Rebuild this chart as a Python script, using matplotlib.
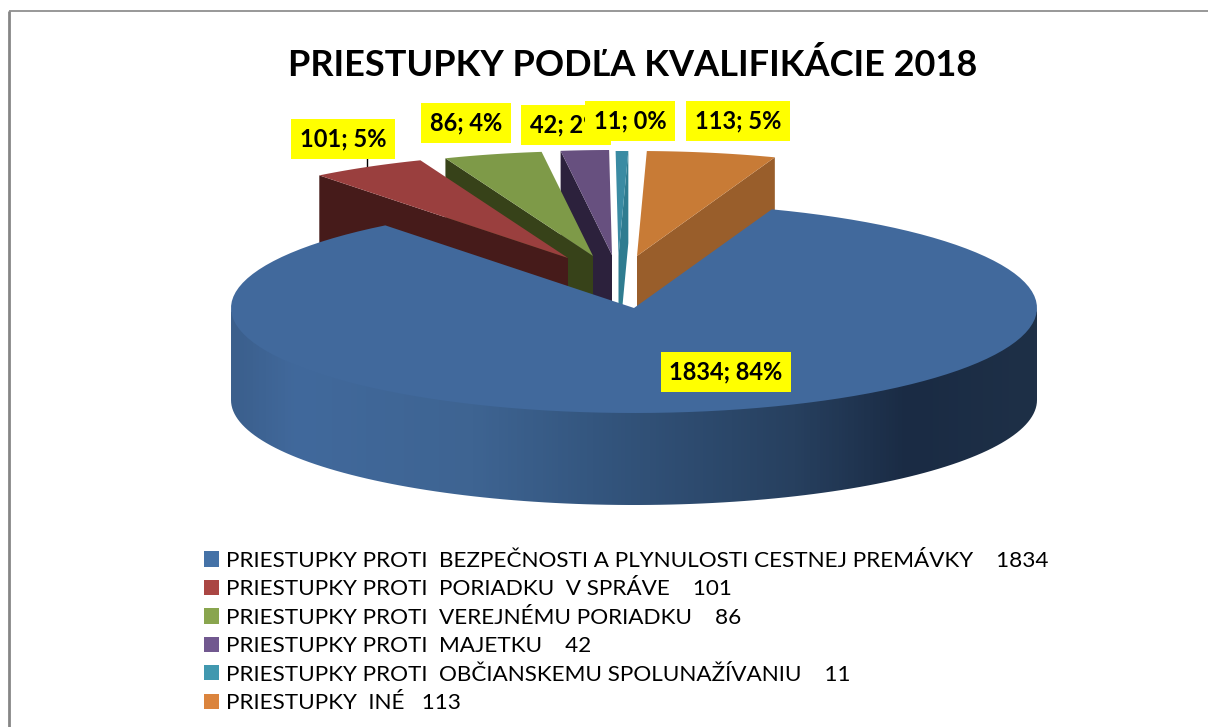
import numpy as np
import matplotlib
matplotlib.use("Agg")
import matplotlib.pyplot as plt
from matplotlib.colors import LinearSegmentedColormap
from matplotlib.patches import Patch, Polygon

# Valeurs
categories = [
    "PRIESTUPKY PROTI  BEZPEČNOSTI A PLYNULOSTI CESTNEJ PREMÁVKY",
    "PRIESTUPKY PROTI  PORIADKU  V SPRÁVE",
    "PRIESTUPKY PROTI  VEREJNÉMU PORIADKU",
    "PRIESTUPKY PROTI  MAJETKU",
    "PRIESTUPKY PROTI  OBČIANSKEMU SPOLUNAŽÍVANIU",
    "PRIESTUPKY  INÉ",
]
values = [1834, 101, 86, 42, 11, 113]
percents = [84, 5, 4, 2, 0, 5]
title = "PRIESTUPKY PODĽA KVALIFIKÁCIE 2018"

# Couleurs
legend_colors = ["#4572A7", "#AA4643", "#89A54E", "#71588F", "#4198AF", "#DB843D"]
top_colors = ["#41699C", "#9A3F3E", "#7E9A48", "#67507F", "#3A8BA3", "#C87B36"]
wall_colors = ["#41699C", "#461B1A", "#374219", "#2C213C", "#2F7C90", "#995E2B"]

# Géométrie de la projection (pixels de l'image)
cx, cy = 634, 308
rx, ry = 403, 105
depth = 92
start_angle = 70  # début de la première tranche, sens horaire
apexes = [(634, 308), (568, 258), (593, 256), (612, 255), (618.5, 256), (637, 256)]
draw_order = [4, 3, 2, 1, 5, 0]
label_centers = [(726, 372), (343, 139), (466, 123), (566, 125), (630, 121), (738, 121)]
label_order = [0, 1, 2, 3, 5, 4]

fig = plt.figure(figsize=(12.08, 7.27), dpi=100)
ax = fig.add_axes([0, 0, 1, 1])
ax.set_xlim(0, 1208)
ax.set_ylim(727, 0)
ax.axis("off")

# Cadre
ax.plot([9, 9], [727, 10.5], color="#868686", lw=2.0, solid_capstyle="butt")
ax.plot([9, 1208], [10.5, 10.5], color="#868686", lw=1.2, solid_capstyle="butt")


def ring(x0, y0, t1, t2, n=120):
    t = np.radians(np.linspace(t1, t2, n))
    return np.column_stack([x0 + rx * np.cos(t), y0 - ry * np.sin(t)])


# Angles des tranches à partir des valeurs
total = sum(values)
spans = [v / total * 360 for v in values]
angles = []
end = start_angle
for s in spans:
    angles.append((end - s, end))
    end = end - s

for i in draw_order:
    t_lo, t_hi = angles[i]
    x0, y0 = apexes[i]
    edge = ring(x0, y0, t_lo, t_hi)

    if i == 0:
        # Paroi extérieure de la grande tranche, en dégradé
        front = ring(cx, cy, 180, 360)
        wall = np.vstack([front + [0, -3], front[::-1] + [0, depth]])
        wall_patch = Polygon(wall, closed=True, fc="none", ec="none")
        ax.add_patch(wall_patch)
        stops = [
            (0.0, "#3B5F8C"),
            (0.08, "#41699C"),
            (0.3, "#3E6492"),
            (0.45, "#34567F"),
            (0.7, "#27405F"),
            (0.84, "#1A2B44"),
            (1.0, "#1E3047"),
        ]
        cmap = LinearSegmentedColormap.from_list("wall", stops)
        img = ax.imshow(
            np.linspace(0, 1, 256).reshape(1, -1),
            cmap=cmap,
            extent=(cx - rx, cx + rx, cy + ry + depth, cy - 3),
            aspect="auto",
            zorder=2,
        )
        img.set_clip_path(wall_patch)
        ax.set_xlim(0, 1208)
        ax.set_ylim(727, 0)
    else:
        # Paroi de coupe visible : côté gauche ou droit selon la position
        mid = np.radians((t_lo + t_hi) / 2)
        side = edge[-1] if np.cos(mid) < 0 else edge[0]
        corners = np.array([[x0, y0], side, side + [0, depth], [x0, y0 + depth]])
        ax.add_patch(Polygon(corners, closed=True, fc=wall_colors[i], ec="none", zorder=3))

    face = np.vstack([[x0, y0], edge])
    ax.add_patch(Polygon(face, closed=True, fc=top_colors[i], ec="none", zorder=3))

# Petit trait de rappel de l'étiquette rouge
ax.plot([367, 367], [158, 170], color="black", lw=1.0, zorder=2.5)

# Étiquettes
for i in label_order:
    x, y = label_centers[i]
    ax.text(
        x,
        y,
        f"{values[i]}; {percents[i]}%",
        family="Lato",
        fontweight="bold",
        fontsize=17,
        ha="center",
        va="center",
        zorder=5,
        bbox=dict(boxstyle="square,pad=0.37", fc="#FFFF00", ec="none"),
    )

# Titre
ax.text(633, 65, title, family="Lato", fontweight="bold", fontsize=26, ha="center", va="center")

# Légende
handles = [Patch(fc=c, ec="none") for c in legend_colors]
labels = [
    f"{c}    {v}" if i != 5 else f"{c}   {v}"
    for i, (c, v) in enumerate(zip(categories, values))
]
ax.legend(
    handles,
    labels,
    loc="upper left",
    bbox_to_anchor=(186 / 1208, 1 - 533 / 727),
    prop={"family": "Lato", "size": 16.2},
    frameon=False,
    handlelength=0.667,
    handleheight=0.667,
    handletextpad=0.32,
    labelspacing=0.375,
    borderpad=0.3,
)

fig.savefig("out.png", dpi=100)
